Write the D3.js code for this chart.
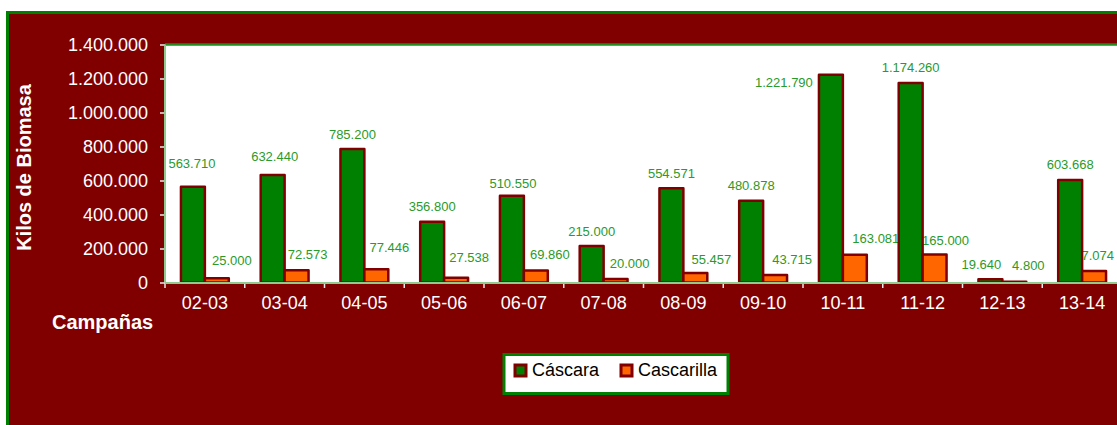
<!DOCTYPE html>
<html>
<head>
<meta charset="utf-8">
<script src="https://cdn.jsdelivr.net/npm/d3@7"></script>
<style>
  html, body { margin: 0; padding: 0; background: #ffffff; overflow: hidden; }
  svg { display: block; font-family: "Liberation Sans", Arial, sans-serif; }
</style>
</head>
<body>
<svg id="chart" width="1117" height="425"></svg>
<script>
// ---- data ----
const categories = ["02-03","03-04","04-05","05-06","06-07","07-08","08-09","09-10","10-11","11-12","12-13","13-14"];
const seriesNames = ["Cáscara","Cascarilla"];
const cascara    = [563710, 632440, 785200, 356800, 510550, 215000, 554571, 480878, 1221790, 1174260, 19640, 603668];
const cascarilla = [25000, 72573, 77446, 27538, 69860, 20000, 55457, 43715, 163081, 165000, 4800, 67074];
const yTicks = [0, 200000, 400000, 600000, 800000, 1000000, 1200000, 1400000];
const yTitle = "Kilos de Biomasa";
const xTitle = "Campañas";

// ---- setup ----
const svg = d3.select("#chart");
const loc = d3.formatLocale({decimal: ",", thousands: ".", grouping: [3], currency: ["", "€"]});
const fmt = loc.format(",d");

const colors = {Cáscara: "#008000", Cascarilla: "#FF6600"};
const DARKRED = "#800000";
const LABEL_GREEN = "#2A9A2A";

const plot = {left: 165, top: 44.5, right: 1122, bottom: 282.5};

// outer frame
svg.append("rect")
  .attr("x", 7.5).attr("y", 12.5)
  .attr("width", 1300).attr("height", 600)
  .attr("fill", DARKRED)
  .attr("stroke", "#008000").attr("stroke-width", 3);

const x = d3.scaleBand().domain(categories).range([plot.left, plot.right]).padding(0);
const xs = d3.scaleBand().domain(seriesNames).range([0, x.bandwidth()]).paddingInner(0).paddingOuter(0.6667);
const y = d3.scaleLinear().domain([0, 1400000]).range([plot.bottom, plot.top]);

// plot area
svg.append("rect")
  .attr("x", plot.left).attr("y", plot.top)
  .attr("width", plot.right - plot.left + 20).attr("height", plot.bottom - plot.top)
  .attr("fill", "#ffffff");
svg.append("line")
  .attr("x1", plot.left).attr("x2", plot.right + 20)
  .attr("y1", plot.top).attr("y2", plot.top)
  .attr("stroke", "#1E8C1E").attr("stroke-width", 2.5);

// y axis
const yAxis = d3.axisLeft(y).tickValues(yTicks).tickFormat(fmt).tickSize(5).tickPadding(12);
const gy = svg.append("g").attr("transform", `translate(${plot.left},0)`).call(yAxis);
gy.select(".domain").remove();
gy.selectAll(".tick line").attr("stroke", "#e8e8e8").attr("stroke-width", 1.5);
gy.selectAll(".tick text").attr("fill", "#ffffff").attr("font-size", 18)
  .attr("font-family", "'Liberation Sans', Arial, sans-serif");
svg.append("line")
  .attr("x1", plot.left).attr("x2", plot.left)
  .attr("y1", plot.top).attr("y2", plot.bottom)
  .attr("stroke", "#8FCB8F").attr("stroke-width", 2);

// x axis
const xAxis = d3.axisBottom(x).tickSize(0).tickPadding(14);
const gx = svg.append("g").attr("transform", `translate(0,${plot.bottom})`).call(xAxis);
gx.select(".domain").remove();
gx.selectAll(".tick text").attr("fill", "#ffffff").attr("font-size", 18)
  .attr("font-family", "'Liberation Sans', Arial, sans-serif");
// category boundary ticks
const boundaries = categories.map(c => x(c));
svg.append("g").selectAll("line").data(boundaries).join("line")
  .attr("x1", d => d).attr("x2", d => d)
  .attr("y1", plot.bottom).attr("y2", plot.bottom + 5.5)
  .attr("stroke", "#e8e8e8").attr("stroke-width", 1.5);

// data labels (drawn before bars, as in the original where bars cover them)
const rows = categories.map((c, i) => ({cat: c, vals: [cascara[i], cascarilla[i]]}));
// manual label adjustments seen in the original (relative to default placement)
const labelNudge = {
  "02-03|Cáscara": {dx: -1, dy: -8},
  "03-04|Cáscara": {dx: 2, dy: -4},
  "06-07|Cáscara": {dx: 1, dy: 3},
  "10-11|Cáscara": {dx: -47, dy: 23},
  "12-13|Cáscara": {dx: -9, dy: 0},
  "02-03|Cascarilla": {dx: 1, dy: -2},
  "03-04|Cascarilla": {dx: -3, dy: 0},
  "04-05|Cascarilla": {dx: -1, dy: -6},
  "05-06|Cascarilla": {dx: -1, dy: -4},
  "08-09|Cascarilla": {dx: 2, dy: 2},
  "09-10|Cascarilla": {dx: 3, dy: 0},
  "10-11|Cascarilla": {dx: 7, dy: 0},
  "11-12|Cascarilla": {dx: -3, dy: 2},
  "13-14|Cascarilla": {dx: -14, dy: 0}
};
const lg = svg.append("g");
rows.forEach(r => {
  seriesNames.forEach((s, si) => {
    const v = r.vals[si];
    const cx = x(r.cat) + xs(s) + xs.bandwidth() / 2;
    const n = labelNudge[r.cat + "|" + s] || {dx: 0, dy: 0};
    const baseDx = si === 0 ? 0 : 14;
    const baseDy = si === 0 ? -15 : -16;
    lg.append("text")
      .attr("x", cx + baseDx + n.dx)
      .attr("y", y(v) + baseDy + n.dy)
      .attr("dy", "0.35em")
      .attr("text-anchor", "middle")
      .attr("font-size", 13)
      .attr("fill", LABEL_GREEN)
      .text(fmt(v));
  });
});

// bars
const bg = svg.append("g");
rows.forEach(r => {
  seriesNames.forEach((s, si) => {
    const v = r.vals[si];
    bg.append("rect")
      .attr("x", x(r.cat) + xs(s))
      .attr("y", y(v))
      .attr("width", xs.bandwidth())
      .attr("height", y(0) - y(v))
      .attr("fill", colors[s])
      .attr("stroke", DARKRED)
      .attr("stroke-width", 2.5)
      .attr("stroke-linejoin", "round");
  });
});

// x axis baseline
svg.append("line")
  .attr("x1", plot.left).attr("x2", plot.right + 20)
  .attr("y1", plot.bottom + 0.5).attr("y2", plot.bottom + 0.5)
  .attr("stroke", "#8FCB8F").attr("stroke-width", 2);

// axis titles
svg.append("text")
  .attr("transform", `translate(31,167.5) rotate(-90)`)
  .attr("text-anchor", "middle")
  .attr("font-size", 20).attr("font-weight", "bold")
  .attr("fill", "#ffffff")
  .text(yTitle);
svg.append("text")
  .attr("x", 52).attr("y", 329)
  .attr("font-size", 20).attr("font-weight", "bold")
  .attr("fill", "#ffffff")
  .text(xTitle);

// legend
const leg = svg.append("g");
leg.append("rect")
  .attr("x", 504).attr("y", 354.5).attr("width", 224).attr("height", 39)
  .attr("fill", "#ffffff").attr("stroke", "#008000").attr("stroke-width", 3);
const legItems = [{name: seriesNames[0], x: 514}, {name: seriesNames[1], x: 620}];
legItems.forEach(it => {
  leg.append("rect")
    .attr("x", it.x + 1).attr("y", 365).attr("width", 11).attr("height", 11)
    .attr("fill", colors[it.name]).attr("stroke", DARKRED).attr("stroke-width", 3);
  leg.append("text")
    .attr("x", it.x + 18).attr("y", 376)
    .attr("font-size", 18).attr("fill", "#000000")
    .text(it.name);
});
</script>
</body>
</html>
